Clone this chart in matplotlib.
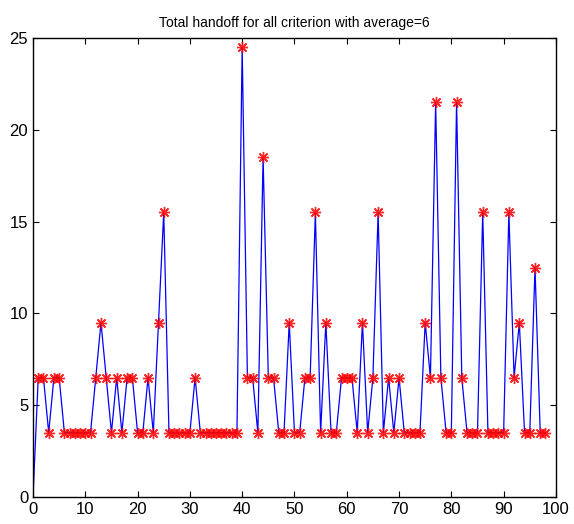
import numpy as np
import matplotlib
matplotlib.use("Agg")
import matplotlib.pyplot as plt

plt.rcParams['font.family'] = ['Liberation Sans', 'DejaVu Sans']

# handoff count per user (index 0..98)
users = np.arange(0, 99)
handoff = [0,
           6.5, 6.5, 3.5, 6.5, 6.5, 3.5, 3.5, 3.5, 3.5, 3.5,
           3.5, 6.5, 9.5, 6.5, 3.5, 6.5, 3.5, 6.5, 6.5, 3.5,
           3.5, 6.5, 3.5, 9.5, 15.5, 3.5, 3.5, 3.5, 3.5, 3.5,
           6.5, 3.5, 3.5, 3.5, 3.5, 3.5, 3.5, 3.5, 3.5, 24.5,
           6.5, 6.5, 3.5, 18.5, 6.5, 6.5, 3.5, 3.5, 9.5, 3.5,
           3.5, 6.5, 6.5, 15.5, 3.5, 9.5, 3.5, 3.5, 6.5, 6.5,
           6.5, 3.5, 9.5, 3.5, 6.5, 15.5, 3.5, 6.5, 3.5, 6.5,
           3.5, 3.5, 3.5, 3.5, 9.5, 6.5, 21.5, 6.5, 3.5, 3.5,
           21.5, 6.5, 3.5, 3.5, 3.5, 15.5, 3.5, 3.5, 3.5, 3.5,
           15.5, 6.5, 9.5, 3.5, 3.5, 12.5, 3.5, 3.5]

fig = plt.figure(figsize=(5.74, 5.24), dpi=100)
ax = fig.add_axes([0.0575, 0.0515, 0.911, 0.876])

ax.plot(users, handoff, color='blue', linewidth=0.9)
# matlab style asterisk marker
ax.plot(users[1:], handoff[1:], linestyle='none', marker=(8, 2, 0),
        color='red', markersize=8, markeredgewidth=1.0, alpha=0.85)

ax.set_xlim(0, 100)
ax.set_ylim(0, 25)
ax.set_xticks(np.arange(0, 101, 10))
ax.set_yticks(np.arange(0, 26, 5))
ax.tick_params(direction='in', top=True, right=True, labelsize=12, length=4)
for s in ax.spines.values():
    s.set_linewidth(1.0)
ax.set_title("Total handoff for all criterion with average=6", fontsize=10, pad=8)

fig.savefig("out.png", dpi=100)
